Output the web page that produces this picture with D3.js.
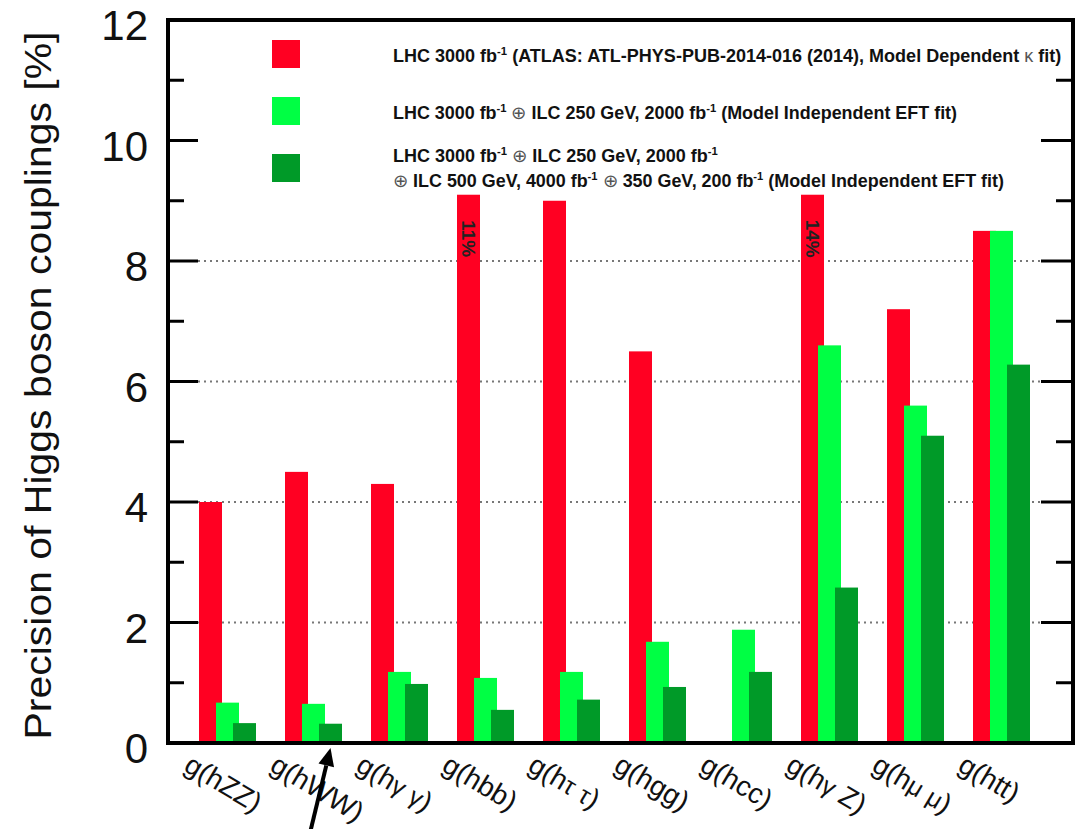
<!DOCTYPE html>
<html>
<head>
<meta charset="utf-8">
<script src="https://cdn.jsdelivr.net/npm/d3@7"></script>
<style>
  html, body { margin: 0; padding: 0; background: #fff; }
  svg { display: block; }
</style>
</head>
<body>
<svg id="chart" width="1082" height="829"></svg>
<script>
// ---------------- data ----------------
const categories = ["hZZ", "hWW", "hγγ", "hbb", "hττ", "hgg", "hcc", "hγZ", "hμμ", "htt"];
const tickLabels = ["g(hZZ)", "g(hWW)", "g(hγ γ)", "g(hbb)", "g(hτ τ)", "g(hgg)", "g(hcc)", "g(hγ Z)", "g(hμ μ)", "g(htt)"];
const seriesKeys = ["lhc", "ilc250", "ilcFull"];
const lhc     = [4.0, 4.5, 4.3, 11, 9.0, 6.5, null, 14, 7.2, 8.5];
const ilc250  = [0.67, 0.65, 1.18, 1.08, 1.18, 1.68, 1.88, 6.6, 5.6, 8.5];
const ilcFull = [0.33, 0.32, 0.98, 0.55, 0.72, 0.93, 1.18, 2.58, 5.1, 6.28];
const displayCap = 9.1;            // bars above this are drawn truncated with their value written inside
const yTicksMajor = [0, 2, 4, 6, 8, 10, 12];
const yTicksMinor = [1, 3, 5, 7, 9, 11];
const gridValues = [2, 4, 6, 8];
const seriesColors = ["#ff0022", "#00ff44", "#009a28"];
const legendLines = [
  [["LHC 3000 fb", ""], ["-1", "sup"], [" (ATLAS: ATL-PHYS-PUB-2014-016 (2014), Model Dependent ", ""], ["κ", "sym"], [" fit)", ""]],
  [["LHC 3000 fb", ""], ["-1", "sup"], [" ", ""], ["⊕", "sym"], [" ILC 250 GeV, 2000 fb", ""], ["-1", "sup"], [" (Model Independent EFT fit)", ""]],
  [["LHC 3000 fb", ""], ["-1", "sup"], [" ", ""], ["⊕", "sym"], [" ILC 250 GeV, 2000 fb", ""], ["-1", "sup"]],
  [["⊕", "sym"], [" ILC 500 GeV, 4000 fb", ""], ["-1", "sup"], [" ", ""], ["⊕", "sym"], [" 350 GeV, 200 fb", ""], ["-1", "sup"], [" (Model Independent EFT fit)", ""]]
];
const yTitle = "Precision of Higgs boson couplings [%]";
const arrowTarget = { category: "hWW", series: "ilcFull" };

// ---------------- layout ----------------
const svg = d3.select("#chart");
const plot = { left: 168, right: 1073, top: 20, bottom: 743 };
const y = d3.scaleLinear().domain([0, 12]).range([plot.bottom, plot.top]);
const x0 = d3.scaleBand().domain(categories).range([185, 1045]).padding(0);
const x1 = d3.scaleBand().domain(seriesKeys).range([14, 65]).padding(0);
const barW = 23;
const FONT = "'Liberation Sans', Arial, Helvetica, sans-serif";
const NARROW = "'Liberation Sans Narrow', 'Arial Narrow', 'Liberation Sans', sans-serif";
const greek = /[γτμκ]/;

const values = { lhc, ilc250, ilcFull };

// grid lines (dotted)
svg.append("g").selectAll("line").data(gridValues).join("line")
  .attr("x1", plot.left).attr("x2", plot.right)
  .attr("y1", d => y(d)).attr("y2", d => y(d))
  .attr("stroke", "#777").attr("stroke-width", 2).attr("stroke-dasharray", "2,4");

// bars
seriesKeys.forEach((key, si) => {
  const data = categories.map((c, i) => ({ c, v: values[key][i] })).filter(d => d.v != null);
  svg.append("g").selectAll("rect").data(data).join("rect")
    .attr("x", d => x0(d.c) + x1(key))
    .attr("width", barW)
    .attr("y", d => y(Math.min(d.v, displayCap)))
    .attr("height", d => y(0) - y(Math.min(d.v, displayCap)))
    .attr("fill", seriesColors[si]);
});

// labels for truncated bars
const trunc = categories.map((c, i) => ({ c, v: lhc[i] })).filter(d => d.v != null && d.v > displayCap);
trunc.forEach(d => {
  const cx = x0(d.c) + x1("lhc") + barW / 2;
  const cy = y(displayCap) + 44;
  svg.append("text")
    .attr("transform", `translate(${cx},${cy}) rotate(90)`)
    .attr("text-anchor", "middle").attr("dominant-baseline", "central")
    .attr("font-family", FONT).attr("font-size", 19).attr("font-weight", "bold").attr("fill", "#222")
    .text(d3.format("d")(d.v) + "%");
});

// frame
svg.append("rect")
  .attr("x", plot.left).attr("y", plot.top)
  .attr("width", plot.right - plot.left).attr("height", plot.bottom - plot.top)
  .attr("fill", "none").attr("stroke", "#000").attr("stroke-width", 4);

// ticks (inward, both sides)
const tickG = svg.append("g").attr("stroke", "#000").attr("stroke-width", 3);
yTicksMajor.forEach(t => {
  tickG.append("line").attr("x1", plot.left).attr("x2", plot.left + 30).attr("y1", y(t)).attr("y2", y(t));
  tickG.append("line").attr("x1", plot.right).attr("x2", plot.right - 32).attr("y1", y(t)).attr("y2", y(t));
});
yTicksMinor.forEach(t => {
  tickG.append("line").attr("x1", plot.left).attr("x2", plot.left + 16).attr("y1", y(t)).attr("y2", y(t));
  tickG.append("line").attr("x1", plot.right).attr("x2", plot.right - 17).attr("y1", y(t)).attr("y2", y(t));
});

// y tick labels
svg.append("g").selectAll("text").data(yTicksMajor).join("text")
  .attr("x", 148).attr("y", d => y(d) + 20)
  .attr("text-anchor", "end")
  .attr("font-family", FONT).attr("font-size", 42).attr("fill", "#111")
  .text(d => d);

// y title
svg.append("text")
  .attr("transform", `translate(51,${(plot.top + plot.bottom) / 2 + 4}) rotate(-90)`)
  .attr("text-anchor", "middle")
  .attr("font-family", FONT).attr("font-size", 37).attr("fill", "#111")
  .attr("textLength", 708).attr("lengthAdjust", "spacingAndGlyphs")
  .text(yTitle);

// x tick labels
categories.forEach((c, i) => {
  const cx = x0(c) + x1("ilc250") + barW / 2 - 1;
  const t = svg.append("text")
    .attr("transform", `translate(${cx - 44},${770}) rotate(31)`)
    .attr("font-family", FONT).attr("font-size", 28).attr("fill", "#111");
  [...tickLabels[i]].forEach(ch => {
    const ts = t.append("tspan").text(ch);
    if (greek.test(ch)) ts.attr("font-size", 25);
  });
});

// legend
const legX = 272, legSize = 28;
const legSquaresY = [40, 97, 154];
seriesKeys.forEach((k, i) => {
  svg.append("rect").attr("x", legX).attr("y", legSquaresY[i])
    .attr("width", legSize).attr("height", legSize).attr("fill", seriesColors[i]);
});
const legBase = [62, 119, 162, 187];
const legWidth = [669, 564, 325, 610];
legendLines.forEach((parts, li) => {
  const t = svg.append("text")
    .attr("font-family", NARROW).attr("font-weight", "bold").attr("font-size", 16).attr("fill", "#111");
  parts.forEach(([s, kind]) => {
    const ts = t.append("tspan").text(s);
    if (kind === "sup") ts.attr("font-size", 10).attr("baseline-shift", "6");
    if (kind === "sym") ts.attr("font-weight", "normal").attr("font-family", FONT).attr("fill", "#555");
  });
  const w = t.node().getBBox().width;
  const k = legWidth[li] / w;
  t.attr("transform", `translate(393,${legBase[li]}) scale(${k},1.1)`);
});

// arrow annotation
const tipX = x0(arrowTarget.category) + x1(arrowTarget.series) + barW / 2;
const tipY = plot.bottom + 5;
const tailX = tipX - 21, tailY = 835;
const ang = Math.atan2(tipY - tailY, tipX - tailX);
const hl = 18, hw = 8;
const bx = tipX - hl * Math.cos(ang), by = tipY - hl * Math.sin(ang);
svg.append("line").attr("x1", tailX).attr("y1", tailY).attr("x2", bx).attr("y2", by)
  .attr("stroke", "#000").attr("stroke-width", 4);
svg.append("polygon")
  .attr("points", [
    [tipX, tipY],
    [bx + hw * Math.sin(ang), by - hw * Math.cos(ang)],
    [bx - hw * Math.sin(ang), by + hw * Math.cos(ang)]
  ].map(p => p.join(",")).join(" "))
  .attr("fill", "#000");
</script>
</body>
</html>
